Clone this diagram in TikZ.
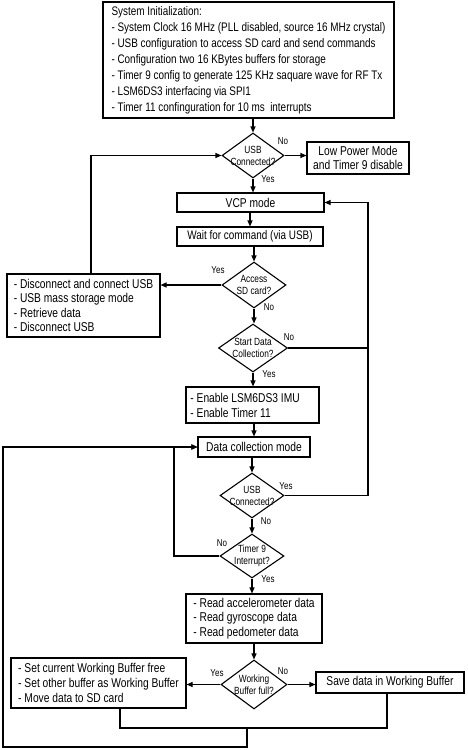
\documentclass[tikz,border=0pt]{standalone}
\usepackage{fontspec}
\setmainfont{Liberation Sans}[FakeStretch=0.8]
\usetikzlibrary{shapes.geometric,arrows.meta,calc}
\begin{document}
\begin{tikzpicture}[x=1pt,y=-1pt,
  line width=1.1pt,
  box/.style={draw, line width=1.1pt, inner sep=0pt, font=\fontsize{12.8}{14}\selectfont, align=center},
  lbox/.style={draw, line width=1.1pt, inner sep=0pt, font=\fontsize{12.8}{14.6}\selectfont, align=left},
  dia/.style={draw, diamond, line width=1.1pt, inner sep=0pt},
  dtxt/.style={font=\fontsize{10.4}{12}\selectfont, align=center, inner sep=0pt},
  lbl/.style={font=\fontsize{10}{12}\selectfont, inner sep=0pt},
  arr/.style={-{Triangle[length=6pt,width=5pt]}}
]
\useasboundingbox (0,0) rectangle (467,750);

% boxes
\node[lbox, font=\fontsize{12.4}{16}\selectfont, minimum width=291pt, minimum height=116pt] (init) at (248.5,60)
 {System Initialization:\\
  - System Clock 16 MHz (PLL disabled, source 16 MHz crystal)\\
  - USB configuration to access SD card and send commands\\
  - Configuration two 16 KBytes buffers for storage\\
  - Timer 9 config to generate 125 KHz saquare wave for RF Tx\\
  - LSM6DS3 interfacing via SPI1\\
  - Timer 11 confinguration for 10 ms\ \ interrupts};

\node[dia, minimum width=62pt, minimum height=45pt, label={[dtxt]center:{USB\\Connected?}}] (d1) at (253,155.5) {};
\node[box, minimum width=102pt, minimum height=32pt] (lp) at (358,158) {Low Power Mode\\and Timer 9 disable};
\node[box, minimum width=147pt, minimum height=19pt] (vcp) at (250.5,202.5) {VCP mode};
\node[box, font=\fontsize{12.4}{14}\selectfont, minimum width=146pt, minimum height=19pt] (wait) at (250,236.5) {Wait for command (via USB)};
\node[dia, minimum width=64pt, minimum height=46pt, label={[dtxt]center:{Access\\SD card?}}] (d2) at (254,285) {};
\node[lbox, minimum width=153pt, minimum height=63pt] (disc) at (83.5,305.5)
 {- Disconnect and connect USB\\- USB mass storage mode\\- Retrieve data\\- Disconnect USB};
\node[dia, minimum width=69pt, minimum height=48pt, label={[dtxt]center:{Start Data\\Collection?}}] (d3) at (253,348) {};
\node[lbox, font=\fontsize{12.8}{15}\selectfont, minimum width=133pt, minimum height=36pt] (en) at (252.5,405)
 {- Enable LSM6DS3 IMU\\- Enable Timer 11\hphantom{ LSM6DS}};
\node[box, minimum width=112pt, minimum height=20pt] (dcm) at (254,447) {Data collection mode};
\node[dia, minimum width=64pt, minimum height=45pt, label={[dtxt]center:{USB\\Connected?}}] (d4) at (252,495.5) {};
\node[dia, minimum width=64pt, minimum height=44pt, label={[dtxt]center:{Timer 9\\Interrupt?}}] (d5) at (252,556) {};
\node[lbox, minimum width=136pt, minimum height=49pt] (rd) at (254,618.5)
 {- Read accelerometer data\\- Read gyroscope data\\- Read pedometer data};
\node[dia, minimum width=66pt, minimum height=49pt, label={[dtxt]center:{Working\\Buffer full?}}] (d6) at (254,684.5) {};
\node[lbox, minimum width=175pt, minimum height=50pt] (sb) at (98.5,683)
 {- Set current Working Buffer free\\- Set other buffer as Working Buffer\\- Move data to SD card};
\node[box, minimum width=148pt, minimum height=21pt] (sv) at (390,682.5) {Save data in Working Buffer};

% junction coordinates
\coordinate (rx) at (368,0);
\coordinate (m1) at (247,728);
\coordinate (m2) at (247,747);
\coordinate (lx) at (3,0);
\coordinate (ix) at (174,0);

% connectors
\draw[arr] (init.south -| d1.north) -- (d1.north);
\draw[arr] (d1.east) -- (d1.east -| lp.west);
\draw[arr] (d1.south) -- (d1.south |- vcp.north);
\draw[arr] (vcp.south -| wait.north) -- (wait.north);
\draw[arr] (wait.south -| d2.north) -- (d2.north);
\draw[arr] (d2.west) -- (d2.west -| disc.east);
\draw[arr] ([xshift=7.5pt]disc.north) |- (d1.west);
\draw[arr] (d2.south) -- (d2.south |- d3.north);
\draw (d3.east) -- (d3.east -| rx);
\draw[arr] (d3.south) -- (d3.south |- en.north);
\draw[arr] (en.south -| dcm.north) -- (dcm.north);
\draw[arr] (dcm.south -| d4.north) -- (d4.north);
\draw[arr] (d4.east) -- (d4.east -| rx) -- (vcp.east -| rx) -- (vcp.east);
\draw[arr] (d4.south) -- (d5.north);
\draw[arr] (d5.west) -- (d5.west -| ix) |- (dcm.west);
\draw[arr] (d5.south) -- (d5.south |- rd.north);
\draw[arr] (rd.south -| d6.north) -- (d6.north);
\draw[arr] (d6.west) -- (d6.west -| sb.east);
\draw[arr] (d6.east) -- (d6.east -| sv.west);
\draw ([xshift=21.5pt]sb.south) |- (m1) -| ([xshift=-3pt]sv.south);
\draw[arr] (m1) -- (m2) -| (lx |- dcm.west) -- (dcm.west);

% branch labels
\node[lbl] (l1) at (283,141) {No};
\node[lbl] (l2) at (268,179) {Yes};
\node[lbl] (l3) at (218,270) {Yes};
\node[lbl] (l4) at (269,307) {No};
\node[lbl] (l5) at (289,337) {No};
\node[lbl] (l6) at (269,374) {Yes};
\node[lbl] (l7) at (286,486) {Yes};
\node[lbl] (l8) at (266,521) {No};
\node[lbl] (l9) at (222,543) {No};
\node[lbl] (l10) at (268,579) {Yes};
\node[lbl] (l11) at (217,673) {Yes};
\node[lbl] (l12) at (283,671) {No};
\end{tikzpicture}
\end{document}
